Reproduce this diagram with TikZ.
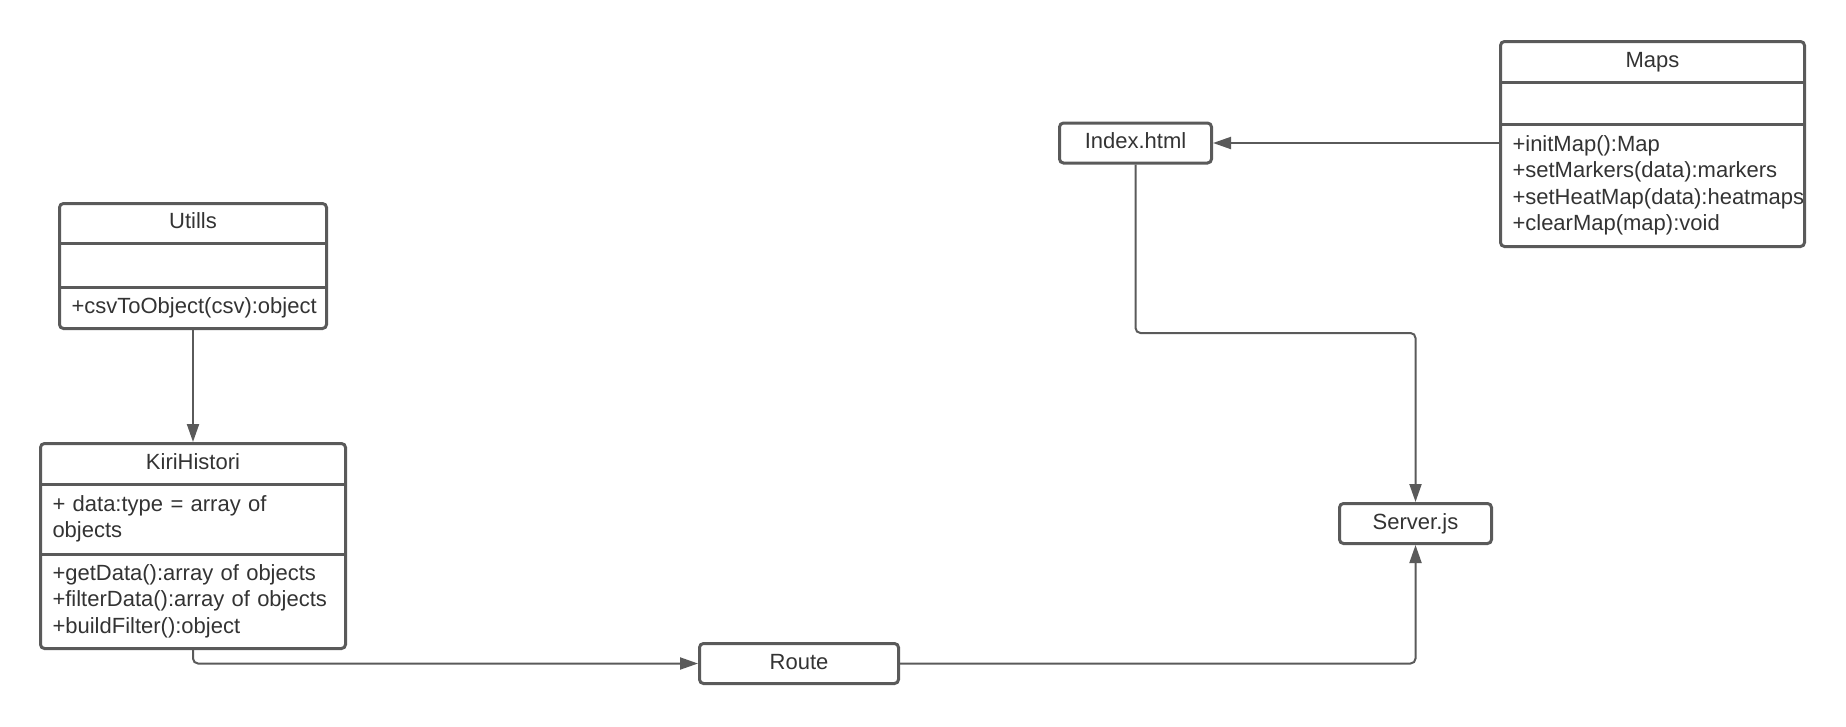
\documentclass[tikz,border=0pt]{standalone}
\usepackage{fontspec}
\setmainfont{Liberation Sans}
\usetikzlibrary{positioning,chains,fit,arrows.meta}
\definecolor{umlline}{HTML}{5A5A5A}
\definecolor{umltext}{HTML}{333333}

\begin{document}
\begin{tikzpicture}[x=1pt,y=-1pt,font=\fontsize{22pt}{26.5pt}\selectfont,text=umltext]
	\useasboundingbox (0,0) rectangle (1846,726);
	\tikzset{box/.style={draw=umlline,line width=3pt,rounded corners=4pt,minimum height=40pt,inner sep=0pt,text height=15.5pt,text depth=4.5pt}}
	\tikzset{link/.style={draw=umlline,line width=2pt,rounded corners=5pt,-{Triangle[length=18pt,width=12pt]}}}

	\tikzstyle{umlhead}=[outer sep=0pt,inner xsep=12pt,inner ysep=0pt,align=center,text height=15.5pt,text depth=4.5pt]
	\tikzstyle{umlpart}=[outer sep=0pt,inner xsep=12pt,inner ysep=0pt,align=left]
	\tikzstyle{umlframe}=[draw=umlline,line width=3pt,rounded corners=4pt,inner sep=0pt]
	\tikzstyle{umlsep}=[draw=umlline,line width=3pt]

	%% Utills class
	\begin{scope}[shift={(193,203.5)},start chain=utl going below,node distance=0pt]
	    \node [on chain=utl,umlhead,text width=243pt,minimum height=39.5pt,anchor=north] (utl1) at (0,0) {Utills};
	    \node [on chain=utl,umlpart,text width=243pt,minimum height=44pt] (utl2) {};
	    \node [on chain=utl,umlpart,text width=243pt,minimum height=41.5pt] (utl3) {+csvToObject(csv):object};
	\end{scope}
	\node [umlframe,fit=(utl1)(utl3)] (utl) {};
	\draw [umlsep] (utl1.south west) -- (utl1.south east) (utl2.south west) -- (utl2.south east);

	%% KiriHistori class
	\begin{scope}[shift={(193,443.5)},start chain=kiri going below,node distance=0pt]
	    \node [on chain=kiri,umlhead,text width=281pt,minimum height=40.5pt,anchor=north] (kiri1) at (0,0) {KiriHistori};
	    \node [on chain=kiri,umlpart,text width=281pt,minimum height=70pt] (kiri2) {+ data:type = array of\\objects};
	    \node [on chain=kiri,umlpart,text width=281pt,minimum height=94.5pt] (kiri3) {+getData():array of objects\\+filterData():array of objects\\+buildFilter():object};
	\end{scope}
	\node [umlframe,fit=(kiri1)(kiri3)] (kiri) {};
	\draw [umlsep] (kiri1.south west) -- (kiri1.south east) (kiri2.south west) -- (kiri2.south east);

	%% Maps class
	\begin{scope}[shift={(1652.5,41.5)},start chain=maps going below,node distance=0pt]
	    \node [on chain=maps,umlhead,text width=280pt,minimum height=41pt,anchor=north] (maps1) at (0,0) {Maps};
	    \node [on chain=maps,umlpart,text width=280pt,minimum height=42pt] (maps2) {};
	    \node [on chain=maps,umlpart,text width=280pt,minimum height=122pt] (maps3) {+initMap():Map\\+setMarkers(data):markers\\+setHeatMap(data):heatmaps\\+clearMap(map):void};
	\end{scope}
	\node [umlframe,fit=(maps1)(maps3)] (maps) {};
	\draw [umlsep] (maps1.south west) -- (maps1.south east) (maps2.south west) -- (maps2.south east);

	%% plain boxes
	\node [box,minimum width=152pt] (idx) at (1135.5,143) {Index.html};
	\node [box,minimum width=152pt] (srv) at (1415.5,523.5) {Server.js};
	\node [box,minimum width=199pt] (route) at (799,663.5) {Route};

	%% connectors
	\coordinate (turn) at (0,333);
	\draw [link] (utl) -- (kiri);
	\draw [link] (kiri.south) |- (route.west);
	\draw [link] (route.east) -| (srv.south);
	\draw [link] (maps.west |- idx.east) -- (idx.east);
	\draw [link] (idx.south) |- (turn -| srv.north) -- (srv.north);
\end{tikzpicture}
\end{document}
